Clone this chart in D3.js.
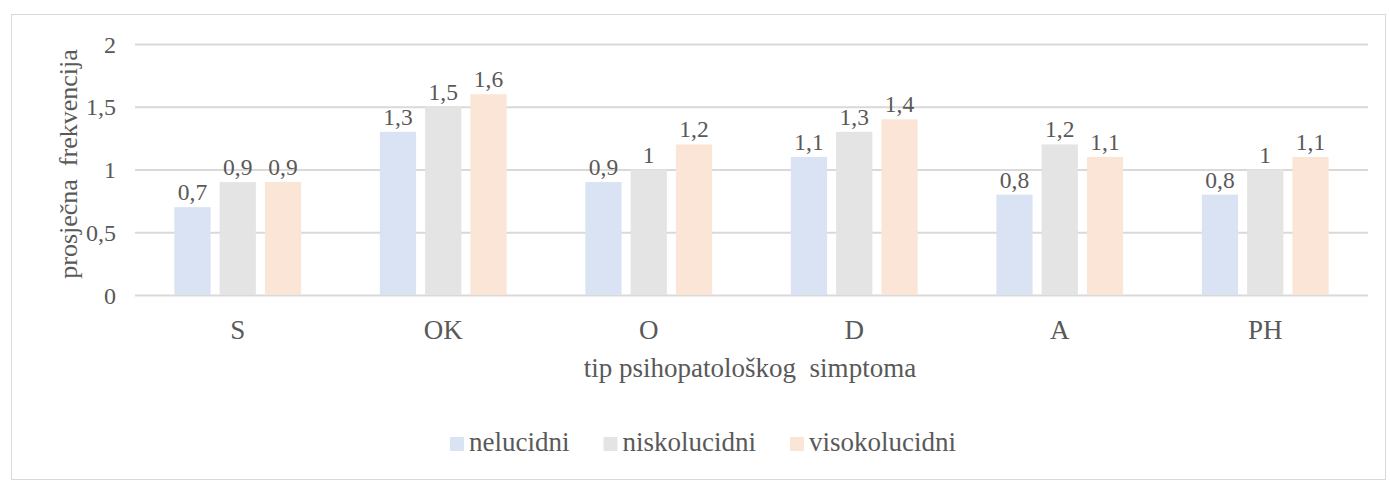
<!DOCTYPE html>
<html>
<head>
<meta charset="utf-8">
<script src="https://cdn.jsdelivr.net/npm/d3@7"></script>
</head>
<body style="margin:0">
<svg id="chart" width="1390" height="494" font-family="Liberation Serif"></svg>
<script>
const categories = ["S", "OK", "O", "D", "A", "PH"];
const seriesNames = ["nelucidni", "niskolucidni", "visokolucidni"];
const nelucidni = [0.7, 1.3, 0.9, 1.1, 0.8, 0.8];
const niskolucidni = [0.9, 1.5, 1.0, 1.3, 1.2, 1.0];
const visokolucidni = [0.9, 1.6, 1.2, 1.4, 1.1, 1.1];
const yTicks = [0, 0.5, 1, 1.5, 2];
const colors = ["#DAE3F3", "#E4E4E4", "#FBE5D6"];
const xTitle = "tip psihopatološkog\u00A0 simptoma";
const yTitle = "prosječna\u00A0 frekvencija";

const FONT = "Liberation Serif";
const TXT = "#595959";
const seriesValues = [nelucidni, niskolucidni, visokolucidni];
const fmt = v => String(v).replace(".", ",");

const svg = d3.select("#chart");
const margin = { left: 135, right: 1368, top: 44, bottom: 295 };

function styleText(sel, size) {
  return sel.attr("font-family", FONT).style("font-family", FONT)
    .style("font-size", size + "px").attr("fill", TXT).style("fill", TXT);
}

// outer border
svg.append("rect").attr("x", 11.5).attr("y", 14.5).attr("width", 1374).attr("height", 465)
  .attr("fill", "none").attr("stroke", "#D9D9D9").attr("stroke-width", 1);

const x = d3.scaleBand().domain(categories).range([margin.left, margin.right]).paddingInner(0).paddingOuter(0);
const x1 = d3.scaleBand().domain(seriesNames).range([0, x.bandwidth() * 0.617]).paddingInner(0.2).paddingOuter(0);
const groupOffset = (x.bandwidth() - x1.range()[1]) / 2;
const y = d3.scaleLinear().domain([0, 2]).range([margin.bottom, margin.top]);

// gridlines via axis
const yAxis = d3.axisLeft(y).tickValues(yTicks).tickSize(-(margin.right - margin.left)).tickFormat(fmt);
const gy = svg.append("g").attr("transform", `translate(${margin.left},0)`).call(yAxis);
gy.attr("font-family", FONT);
gy.select(".domain").remove();
gy.selectAll(".tick line").attr("stroke", "#D9D9D9").attr("stroke-width", 2);
styleText(gy.selectAll(".tick text").attr("x", -19).attr("dy", "0.34em"), 24);

// bars
const groups = svg.append("g").selectAll("g").data(categories).join("g")
  .attr("transform", c => `translate(${x(c) + groupOffset},0)`);
groups.each(function(c, ci) {
  const g = d3.select(this);
  seriesNames.forEach((s, si) => {
    const v = seriesValues[si][ci];
    g.append("rect").attr("x", x1(s)).attr("width", x1.bandwidth())
      .attr("y", y(v)).attr("height", y(0) - y(v)).attr("fill", colors[si]);
    styleText(g.append("text").attr("x", x1(s) + x1.bandwidth() / 2).attr("y", y(v) - 7)
      .attr("text-anchor", "middle"), 23.5).text(fmt(v));
  });
});

// x axis labels
const xAxis = d3.axisBottom(x).tickSize(0).tickPadding(0);
const gx = svg.append("g").attr("transform", `translate(0,${margin.bottom})`).call(xAxis);
gx.attr("font-family", FONT);
gx.select(".domain").remove();
styleText(gx.selectAll(".tick text").attr("y", 44).attr("dy", 0), 27);

// axis titles
styleText(svg.append("text").attr("x", 750).attr("y", 377).attr("text-anchor", "middle"), 27).text(xTitle);
styleText(svg.append("text").attr("transform", "translate(77,164) rotate(-90)").attr("text-anchor", "middle"), 26).text(yTitle);

// legend
const legend = svg.append("g");
let lx = 450;
seriesNames.forEach((s, i) => {
  legend.append("rect").attr("x", lx).attr("y", 437).attr("width", 14).attr("height", 14).attr("fill", colors[i]);
  const t = styleText(legend.append("text").attr("x", lx + 19).attr("y", 451), 27).text(s);
  lx += 19 + t.node().getComputedTextLength() + 34;
});
</script>
</body>
</html>
